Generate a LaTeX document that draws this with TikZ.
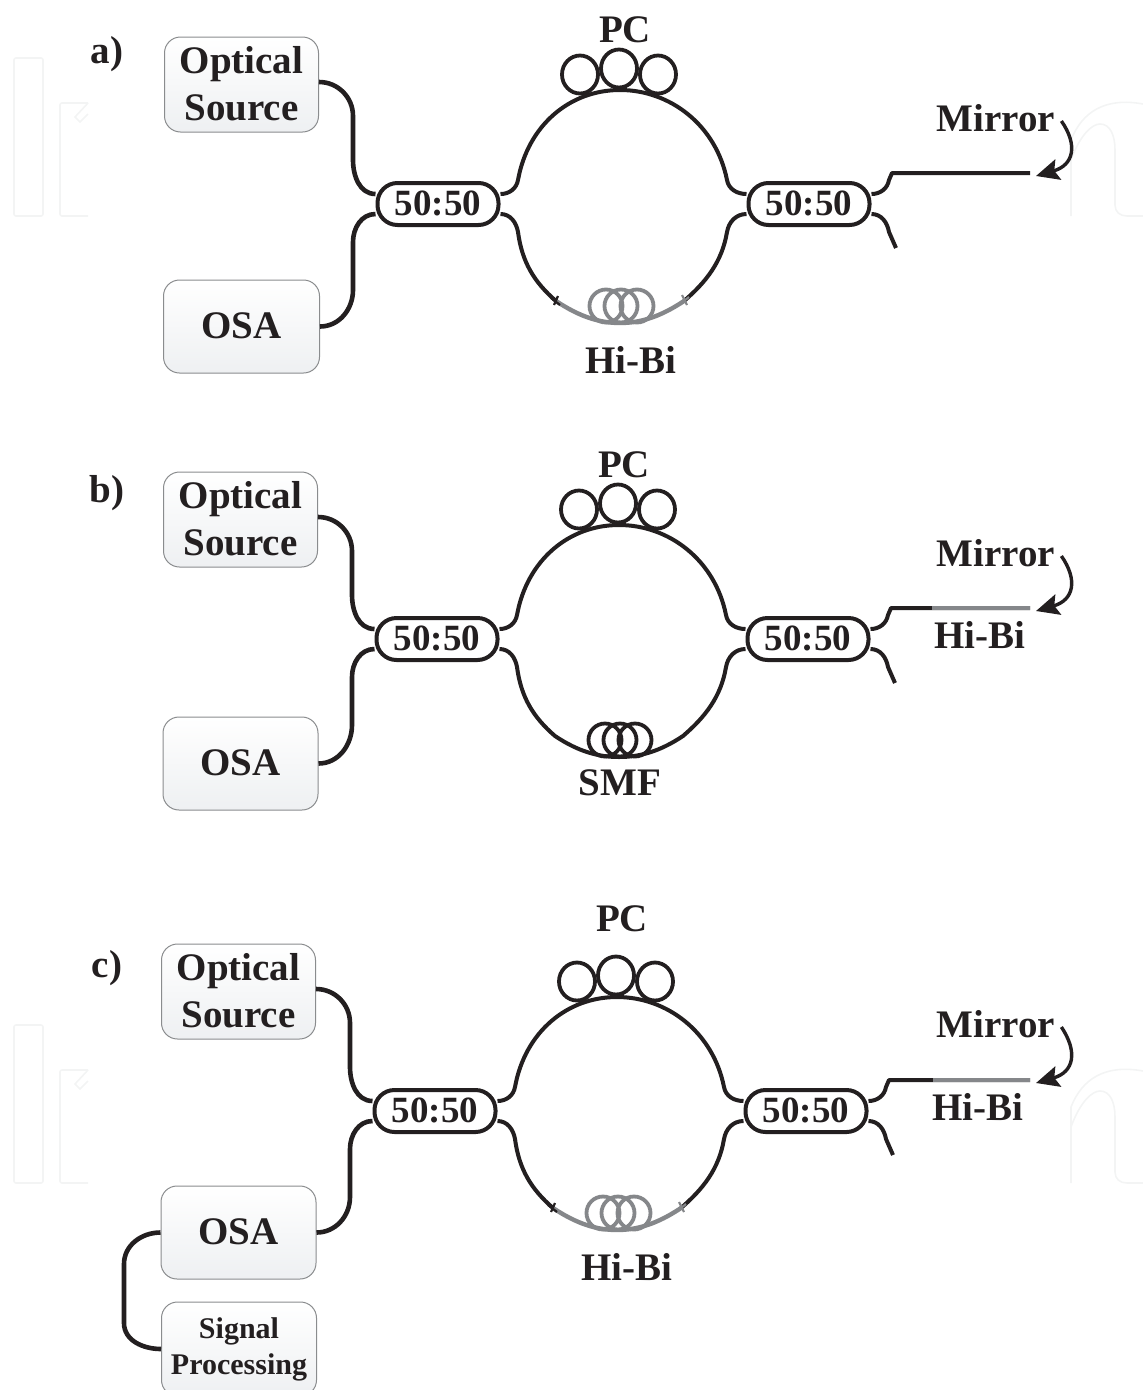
\documentclass[tikz,border=0pt]{standalone}
\usepackage{fontspec}
\setmainfont{Liberation Serif}
\usetikzlibrary{arrows.meta,shapes.geometric}
\definecolor{boxedge}{HTML}{8A8C8E}
\definecolor{boxlow}{HTML}{EEF0F2}
\definecolor{hibi}{HTML}{85878A}
\definecolor{ink}{HTML}{231F20}
\definecolor{faintmark}{HTML}{F3F4F4}
\newcommand{\bigtxt}{\fontsize{39}{47}\selectfont\bfseries}
\newcommand{\midtxt}{\fontsize{37}{37}\selectfont\bfseries}
\newcommand{\smalltxt}{\fontsize{30}{36}\selectfont\bfseries}
\tikzset{
  softbox/.style={draw=boxedge,line width=1pt,rounded corners=16pt,top color=white,bottom color=boxlow,
    minimum width=#1,inner sep=0pt,text=ink,align=center,font=\bigtxt},
  softbox/.default=154pt,
  coupler/.style={draw=ink,line width=4pt,fill=white,rounded corners=20pt,minimum width=121pt,minimum height=42pt,
    inner sep=0pt,text=ink,font=\midtxt},
  wire/.style={draw=ink,line width=4.6pt,line cap=butt,line join=round},
  thinwire/.style={draw=ink,line width=4pt,line join=round},
  label/.style={text=ink,inner sep=0pt,font=\bigtxt},
  pcring/.style={draw=ink,line width=3.8pt,ellipse,minimum width=36pt,minimum height=38pt,inner sep=0pt},
  coilring/.style={draw=#1,line width=3.8pt,circle,minimum size=33pt,inner sep=0pt},
  pointer/.style={draw=ink,line width=3.4pt,-{Stealth[length=23pt,width=21pt,inset=4pt,fill=ink]}},
  faint/.style={draw=faintmark,line width=1.6pt},
}
% faint marks
\newcommand{\faintmarks}{
  \draw[faint,rounded corners=2pt] (14,58) rectangle (43,216);
  \draw[faint,rounded corners=2pt] (88,103) -- (60,103) -- (60,216) -- (88,216);
  \draw[faint] (88,103) -- (75,117) -- (80,122) -- (88,114);
  \draw[faint] (1071,216) -- (1071,140) .. controls (1082,112) and (1105,97) .. (1143,104);
  \draw[faint] (1071,160) .. controls (1080,135) and (1092,124) .. (1100,124) .. controls (1110,124) and (1115,135) .. (1115,150)
     -- (1115,205) .. controls (1115,212) and (1120,216) .. (1127,216) -- (1143,216);
}
% parts common to all three panels (a's coordinates)
\newcommand{\panelcore}{
  \node[softbox,minimum height=95pt] (opt) at (241.5,84.5) {\raisebox{2pt}{Optical}\\\raisebox{2pt}{Source}};
  \node[coupler] (c1) at (438,204) {\raisebox{1pt}{50:50}};
  \node[coupler] (c2) at (809,204) {\raisebox{1pt}{50:50}};
  \node[pcring] (p1) at (580,74.5) {};
  \node[pcring] (p2) at (619,68.5) {};
  \node[pcring] (p3) at (658,74.5) {};
  \draw[wire] (opt.east|-0,82) to[out=0,in=90] (353,116) -- (353,160) to[out=-90,in=180] ([yshift=10pt]c1.west);
  \draw[wire] (osa.east) to[out=0,in=-90] (353,290) -- (353,242) to[out=90,in=180] ([yshift=-10pt]c1.west);
  \draw[thinwire] ([yshift=10pt]c1.east) to[out=0,in=-100] (518,180)
     .. controls (528,125) and (570,90) .. (620,90)
     .. controls (670,90) and (716,125) .. (727,180) to[out=-80,in=180] ([yshift=10pt]c2.west);
  \draw[thinwire] ([yshift=10pt]c2.east) to[out=0,in=-100] (889,180) -- (892,173) -- (mirrorend);
  \draw[thinwire] ([yshift=-10pt]c2.east) to[out=0,in=100] (889,232) -- (mirrorstub);
}
\newcommand{\lowerleft}{([yshift=-10pt]c1.east) to[out=0,in=100] (518,232) .. controls (522,262) and (534,282) .. (556,301)}
\newcommand{\lowerright}{(684,301) .. controls (706,282) and (722,262) .. (727,232) to[out=80,in=180] ([yshift=-10pt]c2.west)}
\begin{document}
\begin{tikzpicture}[x=1pt,y=-1pt]
\useasboundingbox (0,0) rectangle (1143,1390);
\clip (0,0) rectangle (1143,1390);
\faintmarks
\begin{scope}[shift={(0,967)}]\faintmarks\end{scope}

% ---------- panel a
\begin{scope}[name prefix=a-]
  \node[label] (tag) at (107,54) {a)};
  \node[softbox=156pt,minimum height=93pt] (osa) at (241.5,326.5) {\raisebox{1pt}{OSA}};
  \coordinate (mirrorend) at (1030,173);
  \coordinate (mirrorstub) at (896,248);
  \panelcore
  \node[label] (pc) at (625,30) {PC};
  \node[label] (mir) at (996,118) {Mirror};
  \node[label] (hb) at (631,360.5) {Hi-Bi};
  \draw[thinwire] \lowerleft;
  \draw[thinwire] \lowerright;
  \draw[draw=hibi,line width=4.4pt] (556,301) .. controls (580,317) and (600,323) .. (620,323) .. controls (640,323) and (660,317) .. (684,301);
  \node[coilring=hibi] (k1) at (606,306) {};
  \node[coilring=hibi] (k2) at (621,306) {};
  \node[coilring=hibi] (k3) at (637,306) {};
  \draw[draw=ink,line width=2.2pt] (551,298) -- (560,305) (554,305) -- (558,296);
  \draw[draw=hibi,line width=2.2pt] (680,304) -- (689,297) (682,295) -- (687,305);
  \draw[pointer] ([shift={(6,3)}]mir.east) .. controls (1078,145) and (1074,165) .. (1036,176);
\end{scope}

% ---------- panel b
\begin{scope}[shift={(-1,435)},name prefix=b-]
  \node[label] (tag) at (108,58) {b)};
  \node[softbox=155pt,minimum height=93pt] (osa) at (241.5,328.5) {\raisebox{1pt}{OSA}};
  \coordinate (mirrorend) at (1031,173);
  \coordinate (mirrorstub) at (896,248);
  \panelcore
  \node[label] (pc) at (625,30) {PC};
  \node[label] (mir) at (997,118) {Mirror};
  \node[label] (hb) at (981,200) {Hi-Bi};
  \node[label] (smf) at (621,348) {SMF};
  \draw[draw=hibi,line width=4.4pt] (933,173) -- (mirrorend);
  \draw[thinwire] \lowerleft .. controls (580,317) and (600,322) .. (620,322) .. controls (640,322) and (660,317) .. (684,301) .. controls (706,282) and (722,262) .. (727,232) to[out=80,in=180] ([yshift=-10pt]c2.west);
  \node[coilring=ink] (k1) at (606,305) {};
  \node[coilring=ink] (k2) at (621,305) {};
  \node[coilring=ink] (k3) at (636,305) {};
  \draw[pointer] ([shift={(6,3)}]mir.east) .. controls (1079,145) and (1075,165) .. (1037,176);
\end{scope}

% ---------- panel c
\begin{scope}[shift={(-3,907)},name prefix=c-]
  \node[label] (tag) at (110,61) {c)};
  \node[softbox=155pt,minimum height=93pt] (osa) at (241.5,325.5) {\raisebox{1pt}{OSA}};
  \coordinate (mirrorend) at (1033,173);
  \coordinate (mirrorstub) at (896,248);
  \panelcore
  \node[softbox=155pt,minimum height=94pt,font=\smalltxt] (sig) at (242,442) {Signal\\Processing};
  \node[label] (pc) at (625,12) {PC};
  \node[label] (mir) at (999,117) {Mirror};
  \node[label] (hb) at (981,200) {Hi-Bi};
  \node[label] (hb2) at (630,360) {Hi-Bi};
  \draw[draw=hibi,line width=4.4pt] (936,173) -- (mirrorend);
  \draw[thinwire] \lowerleft;
  \draw[thinwire] \lowerright;
  \draw[draw=hibi,line width=4.4pt] (556,301) .. controls (580,317) and (600,323) .. (620,323) .. controls (640,323) and (660,317) .. (684,301);
  \node[coilring=hibi] (k1) at (606,306) {};
  \node[coilring=hibi] (k2) at (621,306) {};
  \node[coilring=hibi] (k3) at (637,306) {};
  \draw[draw=ink,line width=2.2pt] (551,298) -- (560,305) (554,305) -- (558,296);
  \draw[draw=hibi,line width=2.2pt] (680,304) -- (689,297) (682,295) -- (687,305);
  \draw[pointer] ([shift={(6,3)}]mir.east) .. controls (1081,145) and (1077,165) .. (1039,176);
  \draw[wire] (osa.west) to[out=180,in=90] (127,357) -- (127,416) to[out=-90,in=180] (sig.west);
\end{scope}
\end{tikzpicture}
\end{document}
